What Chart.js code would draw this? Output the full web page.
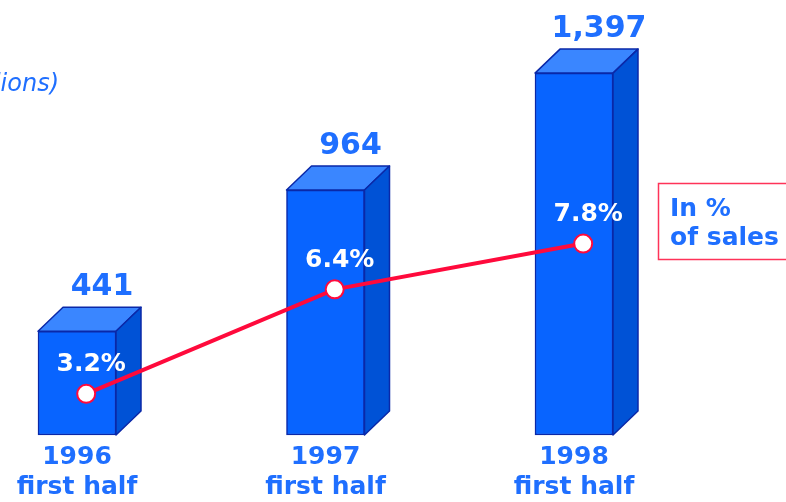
<!DOCTYPE html>
<html>
<head>
<meta charset="utf-8">
<script src="https://cdn.jsdelivr.net/npm/chart.js@4.4.1/dist/chart.umd.min.js"></script>
<style>
  html, body { margin: 0; padding: 0; background: #ffffff; }
  #wrap { width: 786px; height: 502px; position: relative; }
</style>
</head>
<body>
<div id="wrap"><canvas id="c" width="786" height="502"></canvas></div>
<script>
const categories = [['1996', 'first half'], ['1997', 'first half'], ['1998', 'first half']];
const salesValues = [441, 964, 1397];
const salesLabels = ['441', '964', '1,397'];
const pctValues = [3.2, 6.4, 7.8];
const pctLabels = ['3.2%', '6.4%', '7.8%'];
const unitLabel = '(in millions)';
const legendLines = ['In %', 'of sales'];
const salesAxisMin = 57;
const salesAxisMax = 1627;
const pctAxisMin = 1.94;
const pctAxisMax = 14.92;

const BLUE_TEXT = '#1f6fff';
const FONT = '"DejaVu Sans", Verdana, sans-serif';
const DEPTH = 25;

const bar3d = {
  id: 'bar3d',
  afterDatasetDraw(chart, args) {
    if (args.index !== 0) return;
    const ctx = chart.ctx;
    const meta = args.meta;
    ctx.save();
    ctx.lineWidth = 1.5;
    ctx.strokeStyle = '#0a28a8';
    ctx.lineJoin = 'round';
    meta.data.forEach((el) => {
      const p = el.getProps(['x', 'y', 'width', 'base'], true);
      const L = p.x - p.width / 2, R = p.x + p.width / 2, T = p.y, B = p.base;
      ctx.beginPath();
      ctx.moveTo(L, T); ctx.lineTo(L + DEPTH, T - DEPTH + 1);
      ctx.lineTo(R + DEPTH, T - DEPTH + 1); ctx.lineTo(R, T); ctx.closePath();
      ctx.fillStyle = '#3a86ff'; ctx.fill(); ctx.stroke();
      ctx.beginPath();
      ctx.moveTo(R, T); ctx.lineTo(R + DEPTH, T - DEPTH + 1);
      ctx.lineTo(R + DEPTH, B - DEPTH + 1); ctx.lineTo(R, B); ctx.closePath();
      ctx.fillStyle = '#0052d6'; ctx.fill(); ctx.stroke();
    });
    ctx.restore();
  },
  afterDatasetsDraw(chart) {
    const ctx = chart.ctx;
    ctx.save();
    const barMeta = chart.getDatasetMeta(0);
    ctx.font = 'bold 30px ' + FONT;
    ctx.fillStyle = BLUE_TEXT;
    ctx.textAlign = 'center';
    ctx.textBaseline = 'alphabetic';
    barMeta.data.forEach((el, i) => {
      ctx.fillText(salesLabels[i], el.x + DEPTH, el.y - DEPTH - 11);
    });
    const lineMeta = chart.getDatasetMeta(1);
    ctx.font = 'bold 25px ' + FONT;
    ctx.fillStyle = '#ffffff';
    ctx.textBaseline = 'middle';
    lineMeta.data.forEach((el, i) => {
      ctx.fillText(pctLabels[i], el.x + 5, el.y - 29);
    });
    ctx.font = 'oblique 24px ' + FONT;
    ctx.fillStyle = BLUE_TEXT;
    ctx.textAlign = 'right';
    ctx.textBaseline = 'alphabetic';
    ctx.fillText(unitLabel, 59, 91);
    ctx.strokeStyle = '#ff3358';
    ctx.lineWidth = 1.5;
    ctx.strokeRect(658.5, 183.5, 150, 76);
    ctx.font = 'bold 25px ' + FONT;
    ctx.textAlign = 'left';
    ctx.fillStyle = BLUE_TEXT;
    ctx.fillText(legendLines[0], 670, 216);
    ctx.fillText(legendLines[1], 670, 245);
    ctx.restore();
  }
};

new Chart(document.getElementById('c'), {
  data: {
    labels: categories,
    datasets: [
      {
        type: 'bar',
        data: salesValues,
        base: salesAxisMin,
        backgroundColor: '#0864ff',
        borderColor: '#0a28a8',
        borderWidth: 1.5,
        borderSkipped: false,
        barThickness: 78,
        grouped: false,
        clip: false,
        xAxisID: 'x',
        yAxisID: 'y',
        order: 2
      },
      {
        type: 'line',
        data: pctValues.map((v, i) => ({ x: i, y: v })),
        borderColor: '#ff0a3c',
        borderWidth: 4,
        pointRadius: 9,
        pointBorderWidth: 2,
        pointBackgroundColor: '#ffffff',
        pointBorderColor: '#ff0a3c',
        tension: 0,
        clip: false,
        xAxisID: 'x2',
        yAxisID: 'y2',
        order: 1
      }
    ]
  },
  options: {
    responsive: false,
    animation: false,
    devicePixelRatio: 1,
    layout: { padding: { left: 77, right: 212, top: 0, bottom: -7 } },
    plugins: { legend: { display: false }, tooltip: { enabled: false } },
    scales: {
      x: {
        type: 'category',
        offset: false,
        grid: { display: false, drawTicks: false },
        border: { display: false },
        ticks: {
          color: BLUE_TEXT,
          padding: 7,
          maxRotation: 0,
          autoSkip: false,
          font: { family: FONT, size: 25, weight: 'bold', lineHeight: 1.2 }
        }
      },
      x2: { type: 'linear', display: false, min: -0.037, max: 1.963 },
      y: { type: 'linear', display: false, min: salesAxisMin, max: salesAxisMax },
      y2: { type: 'linear', display: false, min: pctAxisMin, max: pctAxisMax }
    }
  },
  plugins: [bar3d]
});
</script>
</body>
</html>
